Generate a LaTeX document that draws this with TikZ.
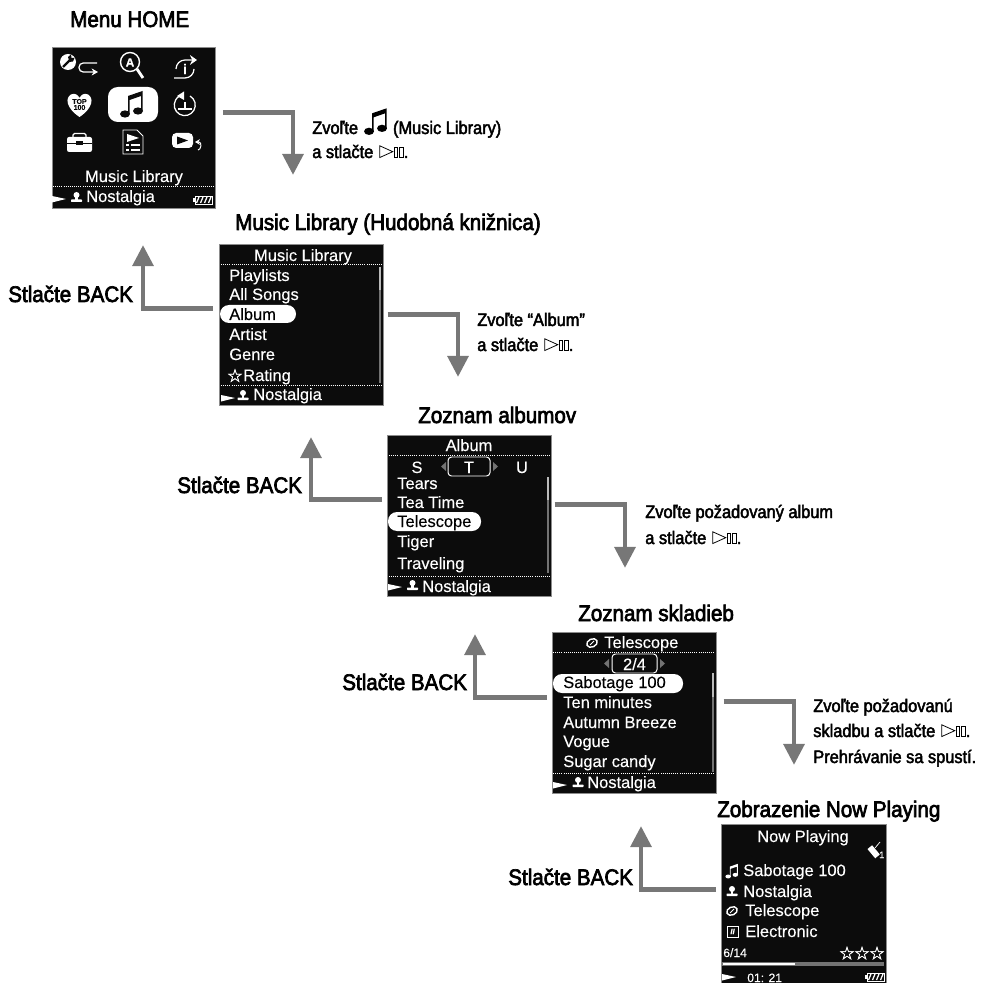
\documentclass[tikz,border=0pt]{standalone}
\usepackage{fontspec}
\setmainfont{Liberation Sans}[FakeBold=0.3]
\newfontface\headfont{Liberation Sans}[FakeStretch=0.915,FakeBold=3]
\newfontface\instrfont{Liberation Sans}[FakeStretch=0.91,FakeBold=2.5]
\newfontfamily\symfont{DejaVu Sans}[FakeBold=1.5]
\usetikzlibrary{positioning, arrows.meta, calc}
\definecolor{arrgray}{HTML}{777777}
\definecolor{scrblack}{HTML}{0C0C0C}
\definecolor{barlight}{HTML}{BBBBBB}

\tikzset{
    music/.pic={
        \fill (-7,10) ellipse (5 and 3.6);
        \fill (6,7) ellipse (5 and 3.6);
        \fill (-4,10) -- (-4,-8) -- (10.5,-13) -- (10.5,7) -- (9,7) -- (9,-8) -- (-2.4,-4) -- (-2.4,10) -- cycle;
    },
    artist/.pic={
        \fill (0,-3) circle (3);
        \fill (-1.2,-1) rectangle (1.2,2);
        \fill[rounded corners=0.5pt] (-5.5,1.5) rectangle (5.5,4);
    },
    album/.pic={
        \draw[line width=1pt, rotate=25] (0,0) ellipse (5.5 and 4);
        \draw[line width=0.7pt] (-2,2) -- (2,-2);
    },
    playtri/.pic={
        \fill (-7,-3) -- (7,0) -- (-7,3.5) -- cycle;
    },
    battery/.pic={
        \fill (-10,-2) rectangle (-8.5,2);
        \draw[line width=0.6pt] (-8,-4) rectangle (9,4);
        \foreach \hx in {-4,0,4,8} \draw[line width=0.9pt] (\hx-2.5,3) -- (\hx,-3);
    },
}
\newcommand{\playsym}{\tikz[x=1pt,y=1pt,baseline=0pt,line width=0.55pt]{
    \draw[black] (0.3,0.3) -- (0.3,8.7) -- (9.6,4.5) -- cycle;
    \draw[black] (10.6,0.6) rectangle (13.2,7.6);
    \draw[black] (14.6,0.6) rectangle (17.2,7.6);}}
\newcommand{\notesym}{\smash{\tikz[x=0.025cm,y=-0.025cm,baseline=-9pt]{\pic[black] {music};}}}

\begin{document}
\begin{tikzpicture}[
    x=0.025cm, y=-0.025cm,
    screen/.style={draw=black!45, line width=0.4pt, fill=scrblack, anchor=north west, inner sep=0pt},
    scrtxt/.style={anchor=base west, inner sep=0pt, text=white, font=\fontsize{11.7}{13}\selectfont},
    mid/.style={scrtxt, anchor=base},
    seltxt/.style={scrtxt, text=black},
    small/.style={scrtxt, font=\fontsize{8.6}{10}\selectfont},
    pill/.style={fill=white, rounded corners=6.4pt},
    chip/.style={draw=white, line width=0.7pt, rounded corners=2.5pt},
    dots/.style={white, line width=0.5pt, dash pattern=on 0.6pt off 0.9pt},
    head/.style={anchor=base west, inner sep=0pt, font=\headfont\fontsize{16}{18}\selectfont},
    instr/.style={anchor=base west, inner sep=0pt, align=left, font=\instrfont\fontsize{12.8}{17.9}\selectfont},
    arr/.style={-{Triangle[width=14.5pt,length=15pt]}, line width=3.5pt, arrgray},
    barlow/.style={line width=1.5pt, black!55},
    barup/.style={line width=2pt, barlight},
    star/.style={inner sep=0pt, text=white, font=\symfont\fontsize{12.8}{13}\selectfont},
]
\useasboundingbox (0,0) rectangle (980,983);

% screens
\node[screen, minimum width=4.08cm, minimum height=4.03cm] (home) at (52,47) {};
\node[screen, minimum width=4.1cm, minimum height=4.03cm] (lib) at (219,244) {};
\node[screen, minimum width=4.1cm, minimum height=4.03cm] (albums) at (387,435) {};
\node[screen, minimum width=4.1cm, minimum height=4.03cm] (songs) at (552,632) {};
\node[screen, minimum width=4.13cm, minimum height=3.98cm] (now) at (721,824) {};

% headings
\node[head] (homehead) at (70,27) {Menu HOME};
\node[head] (libhead) at (235,230) {Music Library (Hudobná knižnica)};
\node[head] (albumshead) at (418,423) {Zoznam albumov};
\node[head] (songshead) at (578,621) {Zoznam skladieb};
\node[head] (nowhead) at (717,817) {Zobrazenie Now Playing};

\node[head] (libback) at (8,302) {Stlačte BACK};
\node[head] (albumsback) at (177,493) {Stlačte BACK};
\node[head] (songsback) at (342,690) {Stlačte BACK};
\node[head] (nowback) at (508,885) {Stlačte BACK};

% instructions
\node[instr] (homeinstr) at (312,134) {Zvoľte\,\,\notesym\,\,(Music Library)};
\node[instr] (homeinstrb) at (312,158) {a stlačte\,\,\playsym.};
\node[instr] (libinstr) at (477,326) {Zvoľte “Album”};
\node[instr] (libinstrb) at (477,351) {a stlačte\,\,\playsym.};
\node[instr] (albumsinstr) at (645,518) {Zvoľte požadovaný album};
\node[instr] (albumsinstrb) at (645,544) {a stlačte\,\,\playsym.};
\node[instr] (songsinstr) at (813,712) {Zvoľte požadovanú};
\node[instr] (songsinstrb) at (813,737) {skladbu a stlačte\,\,\playsym.};
\node[instr] (songsinstrc) at (813,763) {Prehrávanie sa spustí.};

% forward arrows
\coordinate (libin) at (293,175);
\coordinate (albumsin) at (458,377);
\coordinate (songsin) at (625,568);
\coordinate (nowin) at (794,765);
\draw[arr] ([shift={(7,-15)}]home.east) -| (libin);
\draw[arr] ([shift={(4,-10)}]lib.east) -| (albumsin);
\draw[arr] ([shift={(3,-11.5)}]albums.east) -| (songsin);
\draw[arr] ([shift={(7,-11.5)}]songs.east) -| (nowin);

% back arrows
\coordinate (homeout) at (143,245);
\coordinate (libout) at (311,437);
\coordinate (albumsout) at (475,634);
\coordinate (songsout) at (641,826);
\draw[arr] ([shift={(-6,-16.5)}]lib.west) -| (homeout);
\draw[arr] ([shift={(-5,-16.5)}]albums.west) -| (libout);
\draw[arr] ([shift={(-5,-15.5)}]songs.west) -| (albumsout);
\draw[arr] ([shift={(-5,-14.5)}]now.west) -| (songsout);

% home screen
\fill[white] (68,62) circle (8);
\draw[scrblack, line width=1.6pt] (63,67) -- (70,60);
\fill[scrblack] (68,57) -- (71,54.5) -- (71.5,58) -- (74.5,58) -- (73,61.5) -- (69.5,62) -- cycle;
\draw[white, line width=0.9pt, -{Stealth[length=4.5pt,width=5pt]}, rounded corners=3pt] (97,63) -- (79,63) -- (79,72) -- (98,72);
\draw[white, line width=1pt] (130,62) circle (9.5);
\node[inner sep=0pt, text=white, font=\bfseries\fontsize{8.5}{9}\selectfont] (searcha) at (130,62.5) {A};
\draw[white, line width=2pt] (137,69) -- (143,78);
\draw[white, line width=0.9pt, -{Stealth[length=5pt,width=7pt]}] (176,69) arc (180:270:9) -- (197,60);
\draw[white, line width=0.9pt] (194,69) arc (0:90:9) -- (174,78);
\node[inner sep=0pt, text=white, font=\bfseries\fontsize{10}{10}\selectfont] (infoi) at (185,69) {i};

\fill[white] (79.5,117) .. controls (66,108) and (65,98) .. (71,94.5) .. controls (75,92.5) and (78,95) .. (79.5,98) .. controls (81,95) and (84,92.5) .. (88,94.5) .. controls (94,98) and (93,108) .. (79.5,117) -- cycle;
\node[inner sep=0pt, text=scrblack, font=\bfseries\fontsize{5}{5}\selectfont] (heartt) at (79.5,101.5) {TOP};
\node[inner sep=0pt, text=scrblack, font=\bfseries\fontsize{5}{5}\selectfont] (hearth) at (79.5,107.5) {100};
\fill[white, rounded corners=7pt] (108,87) rectangle (158,122);
\pic[scrblack] at (132,104) {music};
\draw[white, line width=0.9pt] (190,96) arc (-60:240:10.5);
\fill[white] (177,96) -- (184,91.5) -- (184,100) -- cycle;
\draw[white, line width=1.5pt] (178,109) -- (192,109);
\draw[white, line width=1.5pt] (185,102) -- (185,109);

\draw[white, line width=0.9pt, rounded corners=1pt] (73,138) -- (73,133.5) -- (86,133.5) -- (86,138);
\fill[white, rounded corners=1.5pt] (67,137) rectangle (92,152);
\draw[scrblack, line width=0.7pt] (67,143.5) -- (92,143.5);
\fill[scrblack] (76,141.5) rectangle (83,145.5);
\draw[white, line width=0.7pt] (123,130) -- (137,130) -- (143,136) -- (143,154) -- (123,154) -- cycle;
\fill[white] (127,134) -- (139,138) -- (127,142) -- cycle;
\foreach \ly in {145,150} {
    \fill[white] (126,\ly-1) rectangle (129,\ly+1);
    \fill[white] (131,\ly-1) rectangle (140,\ly+1);
}
\fill[white, rounded corners=3pt] (172,133) rectangle (193,148);
\fill[scrblack] (177,136.5) -- (188,140.5) -- (177,144.5) -- cycle;
\draw[white, line width=0.7pt, {Stealth[length=3.5pt,width=4pt]}-] (195,142) -- (199,142) to[out=0, in=0] (198,150);

\node[mid] (homename) at (134,182) {Music Library};
\draw[dots] (53,186) -- (214,186);
\pic[white] at (59,199) {playtri};
\pic[white] at (76.5,198) {artist};
\node[scrtxt] (homestat) at (86,202) {Nostalgia};
\pic[white] at (203,200) {battery};

% music library screen
\node[mid] (libtitle) at (303,261) {Music Library};
\draw[dots] (221,264) -- (382,264);
\fill[pill] (220,305) rectangle (296,323);
\foreach \txt/\yy in {Playlists/281,All Songs/300,Artist/340,Genre/360} {
    \node[scrtxt] (lib\yy) at (229,\yy) {\txt};
}
\node[seltxt] (libsel) at (229,320) {Album};
\node[star] (libstar) at (235,375.5) {☆};
\node[scrtxt] (librating) at (243,381) {Rating};
\draw[barlow] (380,267) -- (380,383);
\draw[barup] (380,267) -- (380,290);
\draw[dots] (221,385) -- (382,385);
\pic[white] at (228,398) {playtri};
\pic[white] at (243,396) {artist};
\node[scrtxt] (libstat) at (253,400) {Nostalgia};

% album screen
\node[mid] (albumstitle) at (469,451) {Album};
\draw[dots] (389,455) -- (550,455);
\node[mid] (albumss) at (417,473) {S};
\node[mid] (albumst) at (469,473) {T};
\node[mid] (albumsu) at (522,473) {U};
\draw[chip] (448,457) rectangle (490,476);
\fill[black!55] (446,462) -- (441,466.5) -- (446,471) -- cycle;
\fill[black!55] (493,462) -- (498,466.5) -- (493,471) -- cycle;
\fill[pill] (388,512) rectangle (481,531);
\foreach \txt/\yy in {Tears/489,Tea Time/508,Tiger/547,Traveling/569} {
    \node[scrtxt] (albums\yy) at (397,\yy) {\txt};
}
\node[seltxt] (albumssel) at (397,527) {Telescope};
\draw[barlow] (548,477) -- (548,573);
\draw[barup] (548,477) -- (548,500);
\draw[dots] (389,576) -- (550,576);
\pic[white] at (395,587) {playtri};
\pic[white] at (412.5,586) {artist};
\node[scrtxt] (albumsstat) at (422,592) {Nostalgia};

% song screen
\pic[white] at (592,643) {album};
\node[scrtxt] (songstitle) at (604,648) {Telescope};
\draw[dots] (553,652) -- (715,652);
\node[mid] (songspage) at (634.5,670) {2/4};
\draw[chip] (612,654) rectangle (657,673);
\fill[black!55] (609,659) -- (604,663.5) -- (609,668) -- cycle;
\fill[black!55] (660,659) -- (665,663.5) -- (660,668) -- cycle;
\fill[pill] (553,674) rectangle (683,693);
\node[seltxt] (songssel) at (563,688) {Sabotage 100};
\foreach \txt/\yy in {Ten minutes/708,Autumn Breeze/728,Vogue/747,Sugar candy/767} {
    \node[scrtxt] (songs\yy) at (563,\yy) {\txt};
}
\draw[barlow] (713,673) -- (713,772);
\draw[barup] (713,673) -- (713,697);
\draw[dots] (553,773) -- (715,773);
\pic[white] at (560,785) {playtri};
\pic[white] at (578,783) {artist};
\node[scrtxt] (songsstat) at (587,788) {Nostalgia};

% now playing screen
\node[mid] (nowtitle) at (803,842) {Now Playing};
\fill[white, rotate around={40:(873,851)}] (870,846) rectangle (876,858);
\draw[white, line width=0.5pt] (875,848) -- (880,842);
\node[small, font=\fontsize{6.5}{7}\selectfont] (nowone) at (879,858) {1};
\pic[white, scale=0.55] at (732,871) {music};
\node[scrtxt] (nowsong) at (743,876) {Sabotage 100};
\pic[white] at (732,892) {artist};
\node[scrtxt] (nowartist) at (743,897) {Nostalgia};
\pic[white] at (732,911) {album};
\node[scrtxt] (nowalbum) at (745,916) {Telescope};
\draw[white, line width=0.6pt] (727,926) rectangle (738,937);
\node[inner sep=0pt, text=white, font=\bfseries\itshape\fontsize{5.5}{6}\selectfont] (nowgenre) at (732.5,931.5) {II};
\node[scrtxt] (nowgenretxt) at (745,937) {Electronic};
\node[small] (nowcount) at (723,957) {6/14};
\foreach \sx in {847,862,877} {
    \node[star] (nowstar\sx) at (\sx,953) {☆};
}
\draw[line width=2.2pt, black!55] (722,964) -- (884,964);
\draw[line width=1.6pt, white] (723,964) -- (795,964);
\pic[white] at (729,977) {playtri};
\node[small] (nowtime) at (747,982) {01: 21};
\pic[white] at (875,977) {battery};
\end{tikzpicture}
\end{document}
